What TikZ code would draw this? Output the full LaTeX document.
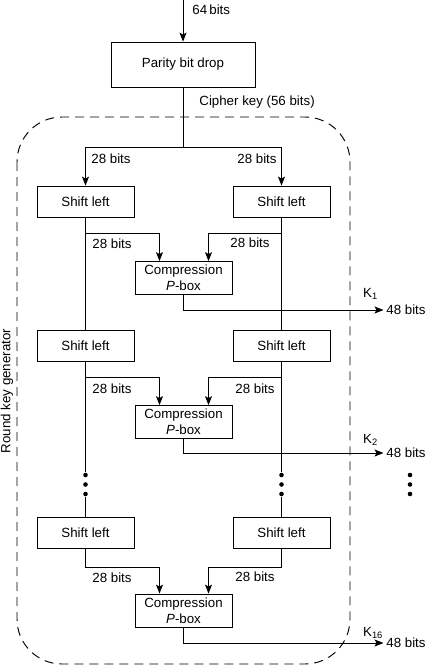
\documentclass[tikz,border=0pt]{standalone}
\usepackage{fontspec}
\setmainfont{Liberation Sans}
\usetikzlibrary{arrows.meta}
\begin{document}
\begin{tikzpicture}[x=1pt,y=-1pt,line width=0.8pt,
		font=\fontsize{13.3}{16}\selectfont,
		blk/.style={draw,minimum width=97pt,minimum height=31pt,inner sep=0pt},
		comp/.style={blk,minimum height=33pt,align=center},
		lbl/.style={inner sep=0pt},
		keyout/.style={anchor=west,inner sep=2.5pt},
		dot/.style={circle,fill,inner sep=0pt,minimum size=4.6pt},
		arr/.style={-{Stealth[length=9pt,width=7pt,inset=2pt]}}]
		\useasboundingbox (0,0) rectangle (428,667);
		
		% round key generator frame
		\draw[dash pattern=on 9pt off 6pt,line width=0.95pt,rounded corners=45pt] (17,117) rectangle (350,664);
		\node[lbl,rotate=90] at (7,391) (rkg) {Round key generator};
		
		\coordinate (in) at (183,0);
		\node[blk,minimum width=144pt,minimum height=45pt] at (183,64.5) (parity) {Parity bit drop};
		\node[lbl,anchor=west] at (192,10) (n64) {64\,bits};
		\node[lbl,anchor=west] at (199,102) (ck) {Cipher key (56 bits)};
		\draw[arr] (in) -- (parity);
		\coordinate (split) at (183,147);
		\draw (parity) -- (split);
		
		\node[blk] at (85.5,201.5) (s1l) {Shift left};
		\node[blk] at (281.5,201.5) (s1r) {Shift left};
		\node[blk] at (85.5,345.5) (s2l) {Shift left};
		\node[blk] at (281.5,345.5) (s2r) {Shift left};
		\node[blk] at (85.5,532.5) (s3l) {Shift left};
		\node[blk] at (281.5,532.5) (s3r) {Shift left};
		
		\node[comp] at (183.5,278) (c1) {Compression\\\textit{P}-box};
		\node[comp] at (183.5,422) (c2) {Compression\\\textit{P}-box};
		\node[comp] at (183.5,610.5) (c3) {Compression\\\textit{P}-box};
		
		\draw[arr] (split) -| (s1l.north);
		\draw[arr] (split) -| (s1r.north);
		\node[lbl,anchor=west] at (91,159) (b0l) {28 bits};
		\node[lbl,anchor=east] at (277,159) (b0r) {28 bits};
		
		% first round
		\draw (s1l) -- (s2l);
		\draw (s1r) -- (s2r);
		\coordinate (j1l) at (85.5,233);
		\coordinate (j1r) at (281.5,233);
		\draw[arr] (j1l) -| ([xshift=-24pt]c1.north);
		\draw[arr] (j1r) -| ([xshift=25pt]c1.north);
		\node[lbl,anchor=west] at (92,244) (b1l) {28 bits};
		\node[lbl,anchor=east] at (270,243) (b1r) {28 bits};
		\node[keyout] at (383.5,310) (o1) {48 bits};
		\draw[arr] (c1) |- (o1.west);
		\node[lbl] at (370.5,294) (k1) {K\textsubscript{1}};
		
		% second round
		\coordinate (j2l) at (85.5,377);
		\coordinate (j2r) at (281.5,377);
		\draw[arr] (j2l) -| ([xshift=-24pt]c2.north);
		\draw[arr] (j2r) -| ([xshift=25pt]c2.north);
		\node[lbl,anchor=west] at (92,389) (b2l) {28 bits};
		\node[lbl,anchor=east] at (275,389) (b2r) {28 bits};
		\node[keyout] at (383.5,453) (o2) {48 bits};
		\draw[arr] (c2) |- (o2.west);
		\node[lbl] at (370.5,440) (k2) {K\textsubscript{2}};
		
		% dots
		\node[dot] at (85.5,475) (d1l) {};
		\node[dot] at (85.5,484.5) (d2l) {};
		\node[dot] at (85.5,494) (d3l) {};
		\node[dot] at (281.5,475) (d1r) {};
		\node[dot] at (281.5,484.5) (d2r) {};
		\node[dot] at (281.5,494) (d3r) {};
		\node[dot] at (410,475) (d1k) {};
		\node[dot] at (410,484.5) (d2k) {};
		\node[dot] at (410,494) (d3k) {};
		\draw (s2l) -- (d1l);
		\draw (s2r) -- (d1r);
		\draw (d3l) -- (s3l);
		\draw (d3r) -- (s3r);
		
		% last round
		\coordinate (j3l) at (85.5,567);
		\coordinate (j3r) at (281.5,567);
		\draw[arr] (s3l.south) -- (j3l) -| ([xshift=-24pt]c3.north);
		\draw[arr] (s3r.south) -- (j3r) -| ([xshift=25pt]c3.north);
		\node[lbl,anchor=west] at (92,578) (b3l) {28 bits};
		\node[lbl,anchor=east] at (275,577) (b3r) {28 bits};
		\node[keyout] at (383.5,643) (o3) {48 bits};
		\draw[arr] (c3) |- (o3.west);
		\node[lbl] at (373,633) (k3) {K\textsubscript{16}};
	\end{tikzpicture}
\end{document}
